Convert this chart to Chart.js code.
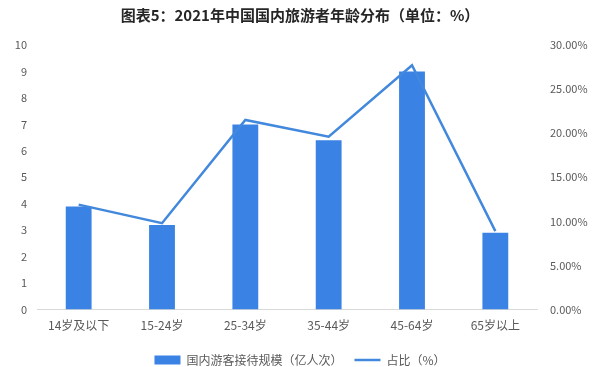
<!DOCTYPE html>
<html>
<head>
<meta charset="utf-8">
<script src="https://cdn.jsdelivr.net/npm/chart.js@4/dist/chart.umd.min.js"></script>
<style>
    html, body { margin: 0; padding: 0; background: #fff; }
    #wrap { width: 600px; height: 367px; }
</style>
</head>
<body>
<div id="wrap"><canvas id="chart"></canvas></div>
<script>
// values
let ageGroups = ['14岁及以下', '15-24岁', '25-34岁', '35-44岁', '45-64岁', '65岁以上'];
let visitors = [3.9, 3.2, 7.0, 6.4, 9.0, 2.9];       // 国内游客接待规模（亿人次）
let share = [11.9, 9.8, 21.5, 19.6, 27.7, 8.9];       // 占比（%）
let leftTicks = [0, 1, 2, 3, 4, 5, 6, 7, 8, 9, 10];
let rightTicks = [0, 5, 10, 15, 20, 25, 30];

let fontFamily = '"Noto Sans CJK SC", "Microsoft YaHei", sans-serif';
let textColor = '#595959';

// keep the legend's item spacing but take back some of its height
let legendHeightFix = {
    id: 'legendHeightFix',
    beforeInit(chart) {
        let fit = chart.legend.fit;
        chart.legend.fit = function () {
            fit.bind(chart.legend)();
            this.height -= 9;
        };
    }
};

let ctx = document.getElementById('chart').getContext('2d');
new Chart(ctx, {
    data: {
        labels: ageGroups,
        datasets: [
            {
                type: 'line',
                label: '占比（%）',
                data: share,
                yAxisID: 'y1',
                borderColor: '#4288dc',
                backgroundColor: '#4288dc',
                borderWidth: 2.5,
                pointRadius: 0,
                pointHoverRadius: 0,
                pointStyle: 'line',
                tension: 0,
                order: 0
            },
            {
                type: 'bar',
                label: '国内游客接待规模（亿人次）',
                data: visitors,
                yAxisID: 'y',
                backgroundColor: '#3a82e4',
                borderWidth: 0,
                pointStyle: 'rect',
                categoryPercentage: 1,
                barPercentage: 0.31,
                order: 1
            }
        ]
    },
    plugins: [legendHeightFix],
    options: {
        responsive: true,
        maintainAspectRatio: false,
        animation: false,
        layout: {
            padding: 0
        },
        plugins: {
            title: {
                display: true,
                text: '图表5：2021年中国国内旅游者年龄分布（单位：%）',
                color: '#262626',
                font: {family: fontFamily, size: 15, weight: 'bold'},
                padding: {top: 6, bottom: 21}
            },
            legend: {
                position: 'bottom',
                reverse: true,
                labels: {
                    usePointStyle: true,
                    pointStyleWidth: 26,
                    boxHeight: 9,
                    color: textColor,
                    font: {family: fontFamily, size: 12},
                    padding: 12
                }
            },
            tooltip: {enabled: false}
        },
        scales: {
            x: {
                grid: {display: false, drawTicks: false},
                border: {display: true, color: '#d9d9d9', width: 1},
                ticks: {
                    color: textColor,
                    font: {family: fontFamily, size: 12},
                    padding: 9
                }
            },
            y: {
                position: 'left',
                min: 0,
                max: 10,
                grid: {display: false, drawTicks: false},
                border: {display: false},
                afterBuildTicks: scale => {
                    scale.ticks = leftTicks.map(v => ({value: v}));
                },
                afterFit: scale => {
                    scale.width = 37;
                },
                ticks: {
                    color: textColor,
                    font: {family: fontFamily, size: 11},
                    padding: 10
                }
            },
            y1: {
                position: 'right',
                min: 0,
                max: 30,
                grid: {display: false, drawTicks: false},
                border: {display: false},
                afterBuildTicks: scale => {
                    scale.ticks = rightTicks.map(v => ({value: v}));
                },
                afterFit: scale => {
                    scale.width = 63;
                },
                ticks: {
                    color: textColor,
                    font: {family: fontFamily, size: 11},
                    padding: 13,
                    callback: value => value.toFixed(2) + '%'
                }
            }
        }
    }
});
</script>
</body>
</html>
